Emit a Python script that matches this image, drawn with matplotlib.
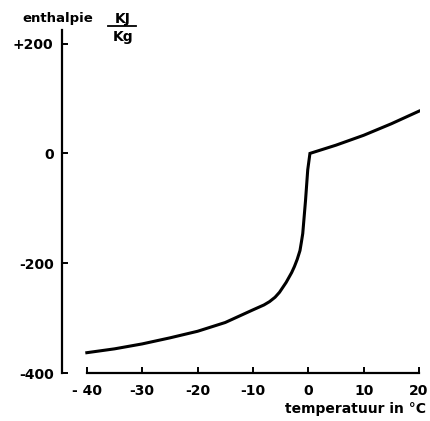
import numpy as np
import matplotlib.pyplot as plt
from matplotlib.lines import Line2D

plt.rcParams['font.family'] = ['DejaVu Sans']
plt.rcParams['font.weight'] = 'bold'

# enthalpie curve (temperature in C, enthalpy in kJ/kg)
temp = [-40, -35, -30, -25, -20, -15, -10, -8, -7, -6, -5.2, -4.6, -4, -3.5,
        -3, -2.5, -2, -1.5, -1.25, -1.0, -0.5, -0.1, 0.3, 5, 10, 15, 20]
enth = [-363, -356, -347, -336, -324, -308, -285, -276, -270, -262, -253,
        -244, -235, -226, -217, -206, -193, -177, -162, -146, -86, -30, 0,
        15, 33, 54, 77]

xticks = [-40, -30, -20, -10, 0, 10, 20]
xlabels = ['- 40', '-30', '-20', '-10', '0', '10', '20']
yticks = [200, 0, -200, -400]
ylabels = ['+200', '0', '-200', '-400']

fig = plt.figure(figsize=(4.30, 4.21), dpi=100)
ax = fig.add_axes([0.144, 0.114, 0.833, 0.815])

ax.plot(temp, enth, color='black', lw=2.2, solid_joinstyle='miter')

ax.set_xlim(-44.5, 20.2)
ax.set_ylim(-400, 225)

for s in ['top', 'right']:
    ax.spines[s].set_visible(False)
ax.spines['left'].set_linewidth(1.6)
ax.spines['bottom'].set_linewidth(1.6)
ax.spines['bottom'].set_bounds(-40, 20)

ax.set_xticks(xticks)
ax.set_xticklabels(xlabels)
ax.set_yticks(yticks)
ax.set_yticklabels(ylabels)
ax.tick_params(direction='in', length=4, width=1.4, labelsize=10)
ax.tick_params(axis='x', pad=8)
ax.tick_params(axis='y', pad=6)

fig.text(0.99, 0.028, 'temperatuur in °C', ha='right', va='center',
         fontsize=10, fontweight='bold')
fig.text(0.052, 0.955, 'enthalpie', ha='left', va='center',
         fontsize=9.5, fontweight='bold')
fig.text(0.286, 0.955, 'KJ', ha='center', va='center',
         fontsize=10, fontweight='bold')
fig.text(0.286, 0.912, 'Kg', ha='center', va='center',
         fontsize=10, fontweight='bold')
fig.add_artist(Line2D([0.252, 0.316], [0.938, 0.938], color='black', lw=1.3,
                      transform=fig.transFigure))

fig.savefig('out.png', dpi=100, facecolor='white')
